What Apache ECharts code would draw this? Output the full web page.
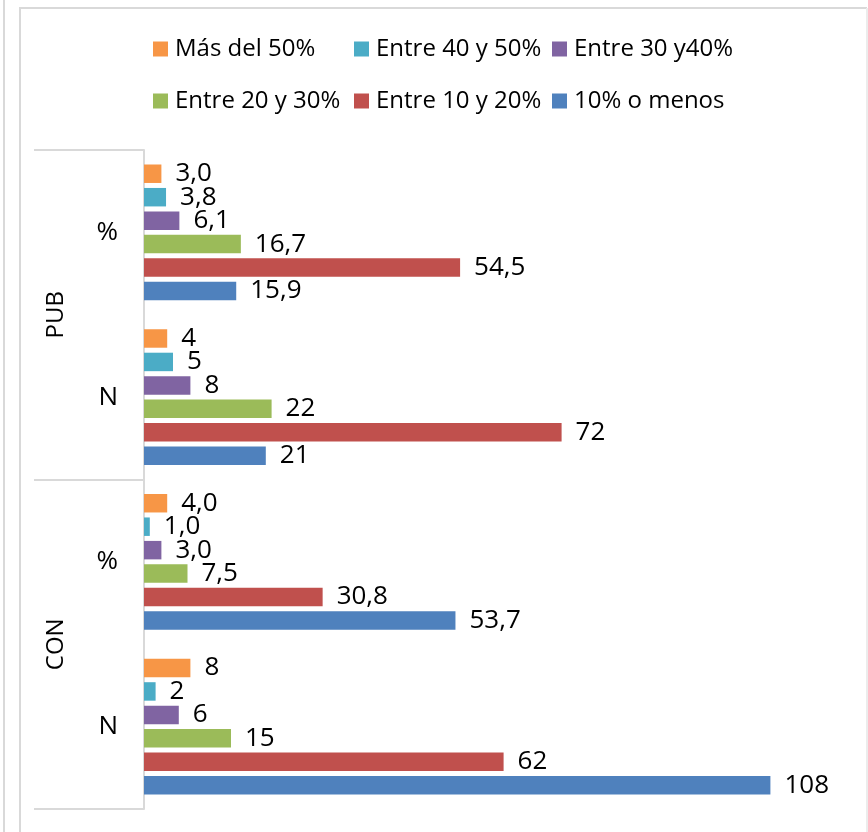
<!DOCTYPE html>
<html>
<head>
<meta charset="utf-8">
<script src="https://cdn.jsdelivr.net/npm/echarts@6/dist/echarts.min.js"></script>
<style>
html,body{margin:0;padding:0;background:#fff;}
#chart{width:868px;height:832px;}
</style>
</head>
<body>
<div id="chart"></div>
<script>
// Categories (top to bottom)
const innerCats = ['%', 'N', '%', 'N'];
const outerCats = ['PUB', 'CON'];
// Series names (legend order)
const seriesNames = ['Más del 50%', 'Entre 40 y 50%', 'Entre 30 y40%', 'Entre 20 y 30%', 'Entre 10 y 20%', '10% o menos'];
// Values per category: [PUB %, PUB N, CON %, CON N]
const masDel50   = [3.0, 4, 4.0, 8];
const entre40y50 = [3.8, 5, 1.0, 2];
const entre30y40 = [6.1, 8, 3.0, 6];
const entre20y30 = [16.7, 22, 7.5, 15];
const entre10y20 = [54.5, 72, 30.8, 62];
const menos10    = [15.9, 21, 53.7, 108];

const seriesData = [masDel50, entre40y50, entre30y40, entre20y30, entre10y20, menos10];
const colors = ['#F79646', '#4BACC6', '#8064A2', '#9BBB59', '#C0504D', '#4F81BD'];

const FONT = '"Open Sans", "Liberation Sans", sans-serif';
const gridLine = '#d9d9d9';

const chart = echarts.init(document.getElementById('chart'), null, {renderer: 'canvas'});

function legendAt(left, names) {
  return {
    left: left, top: 29, orient: 'vertical',
    data: names, itemWidth: 15, itemHeight: 15, itemGap: 22,
    icon: 'rect',
    textStyle: {fontFamily: FONT, fontSize: 24, color: '#000', lineHeight: 30, padding: [0, 0, 0, 2]}
  };
}

const option = {
  animation: false,
  color: colors,
  legend: [
    legendAt(148, [seriesNames[0], seriesNames[3]]),
    legendAt(349, [seriesNames[1], seriesNames[4]]),
    legendAt(547, [seriesNames[2], seriesNames[5]])
  ],
  grid: {left: 144, right: 28, top: 150, bottom: 23, containLabel: false},
  xAxis: {
    type: 'value', min: 0, max: 120, show: false
  },
  yAxis: [
    {
      type: 'category', data: innerCats, inverse: true, position: 'left',
      axisLine: {show: true, lineStyle: {color: gridLine, width: 2}},
      axisTick: {show: false},
      axisLabel: {fontFamily: FONT, fontSize: 26, color: '#000', margin: 26}
    },
    {
      type: 'category', data: outerCats, inverse: true, position: 'left',
      axisLine: {show: false},
      axisTick: {show: true, length: 110, lineStyle: {color: gridLine, width: 2}},
      axisLabel: {fontFamily: FONT, fontSize: 24, color: '#000', rotate: 90, margin: 76}
    }
  ],
  series: seriesNames.map((name, i) => ({
    name: name,
    type: 'bar',
    yAxisIndex: 0,
    data: seriesData[i],
    barCategoryGap: '17.6%',
    barGap: '27%',
    itemStyle: {color: colors[i]},
    label: {
      show: true, position: 'right', distance: 14,
      fontFamily: FONT, fontSize: 26, color: '#000',
      formatter: (p) => innerCats[p.dataIndex] === '%'
        ? p.value.toFixed(1).replace('.', ',')
        : String(p.value)
    }
  })),
  graphic: [
    {type: 'line', shape: {x1: 4, y1: 0, x2: 4, y2: 832}, style: {stroke: '#d9d9d9', lineWidth: 2}, silent: true},
    {type: 'polyline', shape: {points: [[20, 832], [20, 8], [867, 8]]}, style: {stroke: '#d9d9d9', lineWidth: 2, fill: null}, silent: true},
    {type: 'line', shape: {x1: 867, y1: 8, x2: 867, y2: 832}, style: {stroke: '#ececec', lineWidth: 2}, silent: true}
  ]
};
chart.setOption(option);
</script>
</body>
</html>
